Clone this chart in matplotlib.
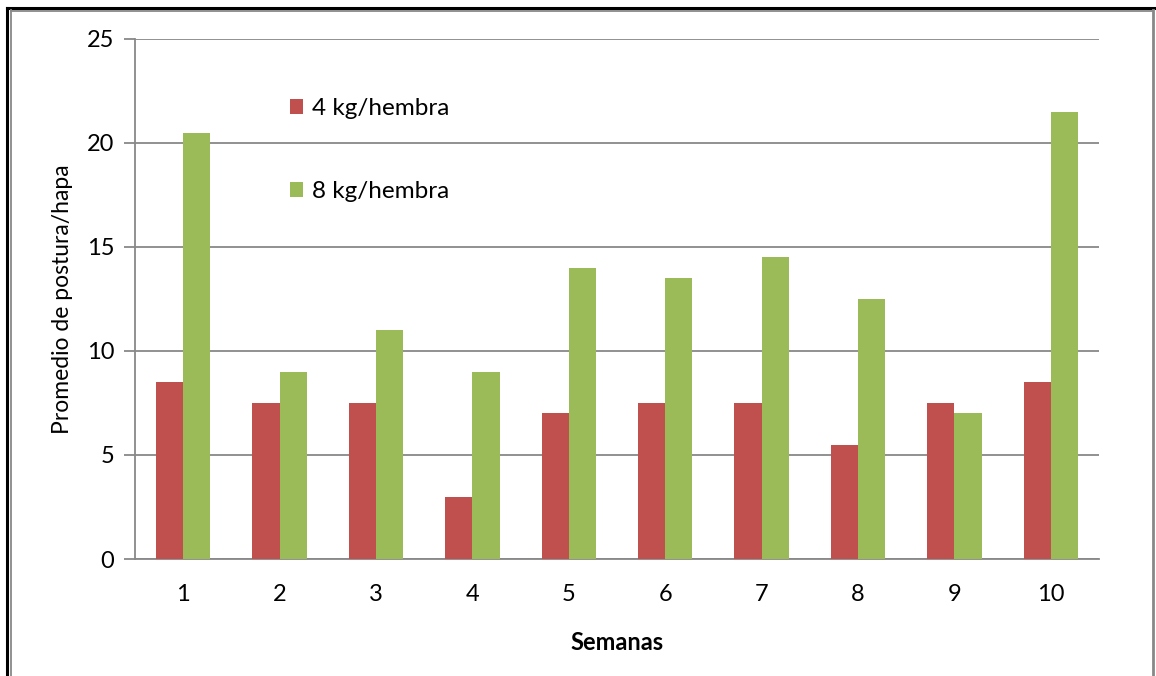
import matplotlib
matplotlib.use("Agg")
import matplotlib.pyplot as plt
from matplotlib.lines import Line2D
import numpy as np

plt.rcParams['font.family'] = ['Lato', 'DejaVu Sans']

semanas = ["1", "2", "3", "4", "5", "6", "7", "8", "9", "10"]
serie_4kg = [8.5, 7.5, 7.5, 3, 7, 7.5, 7.5, 5.5, 7.5, 8.5]
serie_8kg = [20.5, 9, 11, 9, 14, 13.5, 14.5, 12.5, 7, 21.5]
nombres = ["4 kg/hembra", "8 kg/hembra"]
y_ticks = [0, 5, 10, 15, 20, 25]

W, H = 1156, 676
fig = plt.figure(figsize=(W / 100, H / 100), dpi=100)
ax = fig.add_axes([135 / W, 1 - 559 / H, (1099 - 135) / W, (559 - 39) / H])

rojo = "#C0504D"
verde = "#9BBB59"
gris = "#888888"

x = np.arange(len(semanas))
ancho = 0.283
ax.bar(x - ancho / 2, serie_4kg, width=ancho, color=rojo, label=nombres[0], zorder=3)
ax.bar(x + ancho / 2, serie_8kg, width=ancho, color=verde, label=nombres[1], zorder=3)

ax.set_xlim(-0.5, len(semanas) - 0.5)
ax.set_ylim(0, 25)
ax.set_yticks(y_ticks)
ax.set_yticklabels([str(v) for v in y_ticks], fontsize=17)
ax.set_xticks(x)
ax.set_xticklabels(semanas, fontsize=17)

ax.yaxis.grid(True, color=gris, linewidth=1.3, zorder=0)
ax.set_axisbelow(True)
for s in ["top", "right"]:
    ax.spines[s].set_visible(False)
ax.spines["left"].set_color(gris)
ax.spines["left"].set_linewidth(1.3)
ax.spines["bottom"].set_color(gris)
ax.spines["bottom"].set_linewidth(1.3)
ax.tick_params(axis="y", length=8, width=1.3, color=gris, pad=7)
ax.tick_params(axis="x", length=0, pad=18)

ax.set_ylabel("Promedio de postura/hapa", fontsize=16.5, labelpad=10)
ax.set_xlabel("Semanas", fontsize=17, fontweight="bold", labelpad=19)

ax.legend(loc="upper left", bbox_to_anchor=(145 / 964, 0.905), frameon=False,
          fontsize=17.5, handlelength=0.55, handleheight=0.55, handletextpad=0.35,
          labelspacing=2.55, borderaxespad=0)

# page frame
fig.add_artist(Line2D([7 / W, 7 / W], [0, 1 - 8 / H], color="black", linewidth=2.2))
fig.add_artist(Line2D([7 / W, 1], [1 - 8 / H, 1 - 8 / H], color="black", linewidth=2.2))
fig.add_artist(Line2D([11 / W, 11 / W], [0, 1 - 10 / H], color=gris, linewidth=1.3))
fig.add_artist(Line2D([11 / W, 1153 / W], [1 - 10.5 / H, 1 - 10.5 / H], color=gris, linewidth=1.3))
fig.add_artist(Line2D([1153 / W, 1153 / W], [0, 1 - 10 / H], color=gris, linewidth=2))

fig.savefig("out.png", dpi=100)
